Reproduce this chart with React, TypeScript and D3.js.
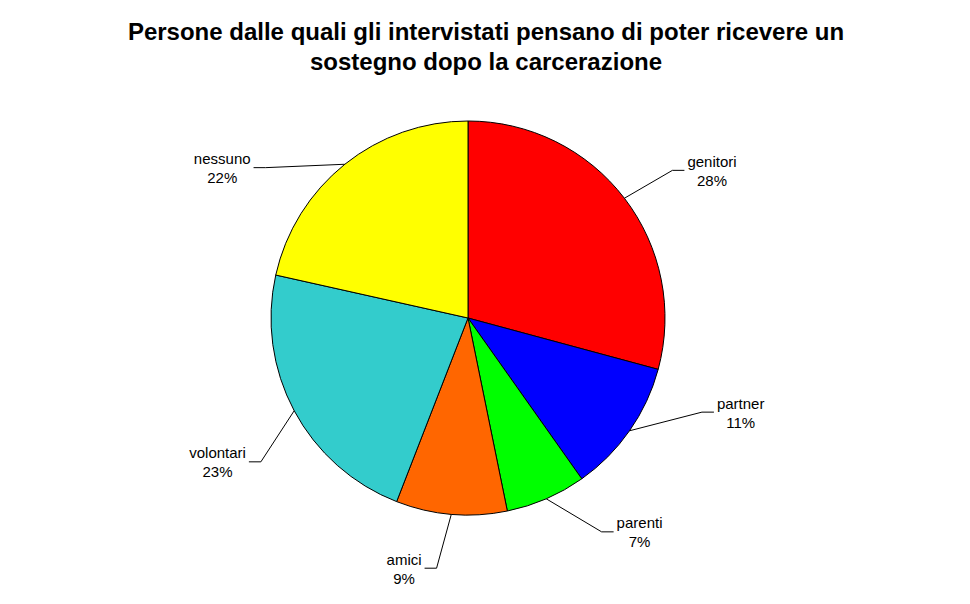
import { useEffect, useMemo } from "react"
import * as d3 from "d3"

const W = 970, H = 604
const CX = 468, CY = 318, R = 197
const FONT = "'Liberation Sans', Arial, Helvetica, sans-serif"

const titleLines = [
  "Persone dalle quali gli intervistati pensano di poter ricevere un",
  "sostegno dopo la carcerazione",
]

// categories, clockwise from 12 o'clock
const categories = ["genitori", "partner", "parenti", "amici", "volontari", "nessuno"]
// slice sizes (share of the circle, %)
const shares = [29.2, 11.0, 6.6, 9.1, 22.6, 21.5]
// printed label percentages
const pctLabels = ["28%", "11%", "7%", "9%", "23%", "22%"]
const colors = ["#FF0000", "#0000FF", "#00FF00", "#FF6600", "#33CCCC", "#FFFF00"]

// small angular nudges (degrees) used by the label layout
const labelNudge = [1.6, -13, -8.6, 2.3, -6.7, -14.7]

let ctx: CanvasRenderingContext2D | null = null
function textW(s: string, size: number) {
  if (!ctx) ctx = document.createElement("canvas").getContext("2d")
  if (!ctx) return s.length * size * 0.5
  ctx.font = `${size}px ${FONT}`
  return ctx.measureText(s).width
}

export default function App() {
  useEffect(() => {
    document.body.style.margin = "0"
  }, [])

  const arcs = useMemo(() => {
    const pie = d3.pie<number>().sort(null).value(d => d)
      .startAngle(0).endAngle(2 * Math.PI)
    return pie(shares)
  }, [])

  const arc = d3.arc<d3.PieArcDatum<number>>().innerRadius(0).outerRadius(R)

  return (
    <svg width={W} height={H} style={{ display: "block", background: "#fff" }}>
      <g fontFamily={FONT}>
        {titleLines.map((t, i) => (
          <text key={i} x={486} y={40 + i * 30} textAnchor="middle"
            fontWeight="bold" fontSize={24} fill="#000">{t}</text>
        ))}
      </g>
      <g transform={`translate(${CX},${CY})`}>
        {arcs.map((a, i) => (
          <path key={categories[i]} d={arc(a) ?? ""} fill={colors[i]}
            stroke="#000" strokeWidth={1} />
        ))}
        {arcs.map((a, i) => {
          const mid = (a.startAngle + a.endAngle) / 2
          const lab = mid + (labelNudge[i] * Math.PI) / 180
          const ex = R * Math.sin(mid), ey = -R * Math.cos(mid)
          const kx = 1.28 * R * Math.sin(lab), ky = -1.28 * R * Math.cos(lab)
          const side = kx >= 0 ? 1 : -1
          const sx = kx + side * 12
          const tw = Math.max(textW(categories[i], 15), textW(pctLabels[i], 15))
          const tx = sx + side * (tw / 2 + 3)
          return (
            <g key={"l" + categories[i]}>
              <polyline points={`${ex},${ey} ${kx},${ky} ${sx},${ky}`}
                fill="none" stroke="#000" strokeWidth={1} />
              <text x={tx} y={ky - 3.5} textAnchor="middle" fontSize={15}
                fontFamily={FONT} fill="#000">{categories[i]}</text>
              <text x={tx} y={ky + 15.5} textAnchor="middle" fontSize={15}
                fontFamily={FONT} fill="#000">{pctLabels[i]}</text>
            </g>
          )
        })}
      </g>
    </svg>
  )
}
